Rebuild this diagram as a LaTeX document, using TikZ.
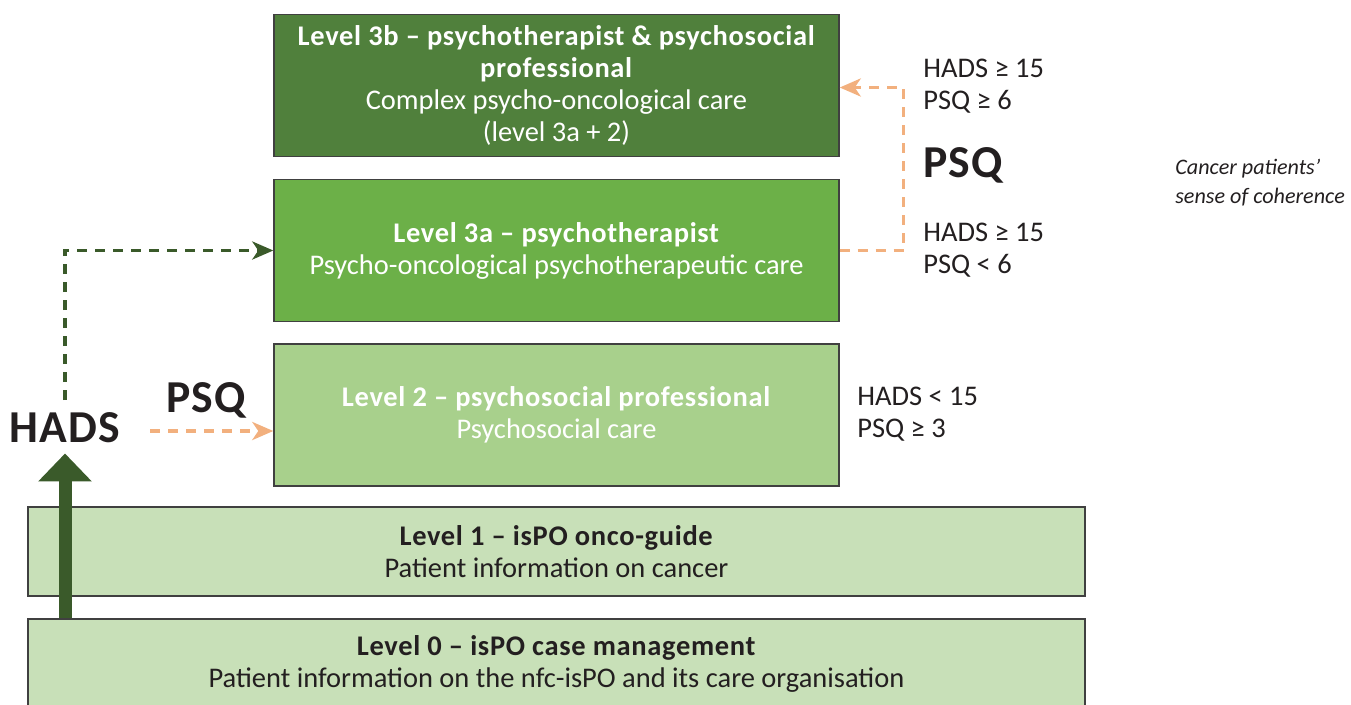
\documentclass[tikz,border=0pt]{standalone}
\usepackage{fontspec}
\setmainfont{Carlito}[BoldFeatures={LetterSpace=2.4}]
\usepackage{xcolor}
\usetikzlibrary{arrows.meta}

\definecolor{lvlthreeb}{HTML}{50803C}
\definecolor{lvlthreea}{HTML}{6CB048}
\definecolor{lvltwo}{HTML}{A8D08C}
\definecolor{lvlbase}{HTML}{C8E0B8}
\definecolor{arrowgreen}{HTML}{3A5A2A}
\definecolor{arroworange}{HTML}{F2B07E}
\definecolor{inkdark}{HTML}{231F20}

\begin{document}
\begin{tikzpicture}[node distance=3.3cm,
    levelbox/.style={draw=black!75, line width=0.8pt, rectangle, align=center,
        minimum width=11.3cm, minimum height=2.84cm, font=\fontsize{16.2}{18.2}\selectfont},
    basebox/.style={levelbox, minimum width=21.14cm, minimum height=1.78cm, fill=lvlbase, text=inkdark},
    score/.style={anchor=west, inner sep=0pt, align=left, text=inkdark, font=\fontsize{16.2}{18.2}\selectfont},
    bigtag/.style={text=inkdark, inner sep=0pt, font=\fontsize{26}{28}\selectfont\bfseries},
    orangedash/.style={arroworange, line width=2pt, dash pattern=on 0.2cm off 0.16cm,
        -{Stealth[length=0.42cm, width=0.36cm, inset=0.12cm]}},
    greendash/.style={arrowgreen, line width=2pt, dash pattern=on 0.2cm off 0.16cm,
        -{Stealth[length=0.42cm, width=0.36cm, inset=0.12cm]}}]
    \useasboundingbox (0,0) rectangle (27.02,-14.08);

    % Level 3b
    \node[levelbox, fill=lvlthreeb, text=white] (lvl3b) at (11.13,-1.71)
        {\textbf{Level 3b – psychotherapist \& psychosocial}\\\textbf{professional}\\Complex psycho-oncological care\\(level 3a + 2)};

    % Level 3a
    \node[levelbox, fill=lvlthreea, text=white, below of=lvl3b] (lvl3a)
        {\textbf{Level 3a – psychotherapist}\\Psycho-oncological psychotherapeutic care};

    % Level 2
    \node[levelbox, fill=lvltwo, text=white, below of=lvl3a, node distance=3.29cm] (lvl2)
        {\textbf{Level 2 – psychosocial professional}\\Psychosocial care};

    % Level 1 and Level 0
    \node[basebox] (lvl1) at (11.13,-11.03) {\textbf{Level 1 – isPO onco-guide}\\Patient information on cancer};
    \node[basebox, below of=lvl1, node distance=2.24cm] (lvl0)
        {\textbf{Level 0 – isPO case management}\\Patient information on the nfc-isPO and its care organisation};

    % Screening tags
    \node[bigtag] (hads) at (1.3,-8.56) {HADS};
    \node[bigtag] (psqleft) at (4.12,-8.0) {PSQ};
    \node[bigtag, anchor=west] (psqright) at (18.46,-3.3) {PSQ};

    % Score thresholds
    \node[score] (thr3b) at (18.46,-1.72) {HADS ≥ 15\\PSQ ≥ 6};
    \node[score] (thr3a) at (18.46,-5.0) {HADS ≥ 15\\PSQ < 6};
    \node[score] (thr2) at (17.14,-8.28) {HADS < 15\\PSQ ≥ 3};
    \node[score, font=\fontsize{12.6}{16.4}\selectfont\itshape] (soc) at (23.5,-3.65)
        {Cancer patients’\\sense of coherence};

    % Arrows
    \draw[arrowgreen, line width=0.26cm, -{Triangle[length=0.56cm, width=1.04cm]}]
        (hads.south |- lvl0.north) -- ([yshift=-0.2cm]hads.south);
    \draw[greendash] ([yshift=0.25cm]hads.north) |- (lvl3a.west);
    \draw[orangedash] ([xshift=0.6cm, yshift=-0.06cm]hads.east) -- ([yshift=-0.06cm]hads.east -| lvl2.west);
    \draw[orangedash] (lvl3a.east) -- ++(1.28,0) |- ([yshift=-0.04cm]lvl3b.east);
\end{tikzpicture}
\end{document}
